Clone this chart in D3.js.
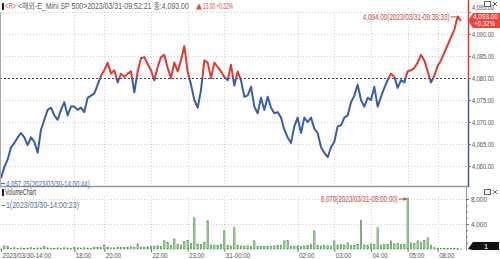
<!DOCTYPE html>
<html>
<head>
<meta charset="utf-8">
<script src="https://cdn.jsdelivr.net/npm/d3@7/dist/d3.min.js"></script>
<style>
    body { margin: 0; background: #fff; }
    svg { display: block; font-family: "Liberation Sans", "Noto Sans CJK KR", sans-serif; }
    .grid line { stroke: #cfcfcf; stroke-dasharray: 1,2; }
    .ax text { fill: #505050; font-size: 8px; }
    .ax line { stroke: #777; }
</style>
</head>
<body>
<svg id="chart" width="500" height="259"></svg>
<script>
// price path (tick chart, oldest first)
const prices = [
    4057.25, 4059.75, 4061.5, 4064.25, 4065.25, 4066.5, 4067.5, 4066.5, 4064.75, 4066.5,
    4065.5, 4063.0, 4068.25, 4070.5, 4072.75, 4073.25, 4071.5, 4070.5, 4072.75, 4074.5,
    4071.5, 4073.5, 4073.5, 4072.75, 4073.25, 4072.25, 4075.5, 4076.0, 4076.5, 4078.5,
    4080.5, 4081.75, 4083.5, 4081.0, 4081.75, 4079.0, 4081.0, 4080.25, 4081.0, 4081.5,
    4076.75, 4081.5, 4084.5, 4084.75, 4083.25, 4081.75, 4079.5, 4082.5, 4084.75, 4085.25,
    4082.25, 4080.0, 4083.5, 4081.5, 4084.0, 4087.25, 4081.5, 4078.5, 4075.0, 4073.25,
    4077.25, 4084.0, 4083.5, 4080.0, 4083.5, 4082.5, 4081.5, 4080.25, 4079.5, 4083.0,
    4078.25, 4081.5, 4079.5, 4075.75, 4076.0, 4078.0, 4073.5, 4072.0, 4075.5, 4072.75,
    4075.75, 4073.25, 4072.0, 4072.25, 4071.0, 4068.25, 4066.5, 4065.25, 4069.0, 4071.0,
    4067.5, 4071.0, 4070.0, 4071.0, 4068.5, 4067.5, 4064.25, 4063.0, 4062.0, 4064.25,
    4065.5, 4069.0, 4069.25, 4071.0, 4071.5, 4074.5, 4076.0, 4078.5, 4075.0, 4073.5,
    4075.5, 4075.0, 4078.0, 4073.5, 4075.75, 4077.75, 4079.5, 4081.0, 4080.25, 4077.75,
    4079.5, 4079.0, 4081.5, 4081.75, 4082.25, 4083.5, 4085.25, 4084.0, 4081.5, 4079.0,
    4080.5, 4082.75, 4084.0, 4085.75, 4087.5, 4089.25, 4091.0, 4094.0, 4093.0
];
const volumes = [
    1, 500, 400, 150, 200, 120, 180, 100, 150, 220,
    130, 180, 160, 450, 200, 150, 120, 180, 140, 200,
    160, 120, 250, 180, 150, 200, 170, 130, 210, 260,
    300, 640, 250, 200, 180, 220, 260, 240, 300, 350,
    280, 800, 320, 300, 350, 420, 380, 500, 450, 1300,
    1100, 600, 1600, 700, 650, 1200, 1400, 900, 5000, 800,
    700, 1100, 4500, 650, 600, 550, 700, 2900, 600, 500,
    3400, 600, 500, 450, 520, 400, 1300, 450, 380, 420,
    400, 450, 500, 600, 550, 1300, 1400, 500, 450, 480,
    420, 500, 600, 700, 2900, 550, 480, 600, 520, 500,
    1300, 600, 700, 650, 1000, 550, 600, 700, 4600, 650,
    600, 800, 700, 3400, 650, 700, 750, 1300, 800, 900,
    700, 750, 8070, 1000, 900, 1300, 1100, 1400, 1800, 600,
    200, 150, 120, 100, 80, 120, 90, 60, 1
];
const basePrice = 4080;
const lastPrice = 4093.00;
const change = 13.00;
const changePct = 0.32;
const priceTicks = [4060, 4065, 4070, 4075, 4080, 4085, 4090, 4095];
const volTicks = [4000, 8000];
const volMinorTicks = [1000, 2000, 3000, 5000, 6000, 7000];
const timeTickIdx = [0, 22, 31, 45, 56, 67, 89, 100, 111, 122, 131];
const timeTickLabels = ["2023/03/30-14:00", "18:00", "20:00", "22:00", "23:00", "31-00:00",
                        "02:00", "03:00", "04:00", "05:00", "08:00"];
const maxTime = "2023/03/31-09:35:33";
const minTime = "2023/03/30-14:00:44";
const volMaxTime = "2023/03/31-05:00:00";
const volMinTime = "2023/03/30-14:00:23";

const RED = "#e03a30", BLUE = "#3a5da8", axisX = 468;
const svg = d3.select("#chart");

const x = d3.scaleLinear().domain([0, prices.length - 1]).range([1, 461]);
const y = d3.scaleLinear().domain([4060, 4095]).range([166, 12]);
const yv = d3.scaleLinear().domain([0, 8000]).range([249, 199]);
const fmt2 = d3.format(",.2f");

// squeeze a text horizontally around its anchor so it spans w pixels
function fit(sel, w) {
    sel.each(function () {
        const n = this, len = n.getComputedTextLength();
        if (!len) return;
        const x0 = +(n.getAttribute("x") || 0);
        const s = w / len;
        d3.select(n).attr("transform", `translate(${x0},0) scale(${s},1) translate(${-x0},0)`);
    });
    return sel;
}

// grid
const grid = svg.append("g").attr("class", "grid");
grid.selectAll(".hp").data(priceTicks.filter(d => d !== basePrice)).join("line")
    .attr("x1", 0).attr("x2", axisX).attr("y1", d => y(d) + 0.5).attr("y2", d => y(d) + 0.5);
grid.selectAll(".vp").data(timeTickIdx.slice(1)).join("line")
    .attr("x1", d => Math.round(x(d)) + 0.5).attr("x2", d => Math.round(x(d)) + 0.5)
    .attr("y1", 12).attr("y2", 186);
grid.selectAll(".hv").data(volTicks).join("line")
    .attr("x1", 0).attr("x2", 466).attr("y1", d => yv(d) + 0.5).attr("y2", d => yv(d) + 0.5);
grid.selectAll(".vv").data(timeTickIdx.slice(1)).join("line")
    .attr("x1", d => Math.round(x(d)) + 0.5).attr("x2", d => Math.round(x(d)) + 0.5)
    .attr("y1", 197).attr("y2", 249);

// previous close
svg.append("line").attr("x1", 0).attr("x2", axisX)
    .attr("y1", y(basePrice) + 0.5).attr("y2", y(basePrice) + 0.5)
    .attr("stroke", "#444").attr("stroke-dasharray", "2,2");

// price line, red above the close and blue below
const defs = svg.append("defs");
defs.append("clipPath").attr("id", "up").append("rect")
    .attr("x", 0).attr("y", 0).attr("width", axisX).attr("height", y(basePrice));
defs.append("clipPath").attr("id", "dn").append("rect")
    .attr("x", 0).attr("y", y(basePrice)).attr("width", axisX).attr("height", 186 - y(basePrice));
const line = d3.line().x((d, i) => x(i)).y(d => y(d));
[["up", RED], ["dn", BLUE]].forEach(([id, c]) => {
    svg.append("path").datum(prices).attr("clip-path", `url(#${id})`)
        .attr("d", line).attr("fill", "none").attr("stroke", c)
        .attr("stroke-width", 2).attr("stroke-linejoin", "round");
});

// volume bars
svg.append("g").selectAll("rect").data(volumes).join("rect")
    .attr("x", (d, i) => x(i) - 0.7).attr("width", 1.4)
    .attr("y", d => yv(d)).attr("height", d => Math.max(0.6, yv(0) - yv(d)))
    .attr("fill", "#a8d4a0").attr("stroke", "#2f8a2f").attr("stroke-width", 0.5);

// panel borders
svg.append("line").attr("x1", 0).attr("x2", axisX).attr("y1", 186.5).attr("y2", 186.5)
    .attr("stroke", "#9a9a9a").attr("stroke-width", 1.5);
svg.append("line").attr("x1", 0.5).attr("x2", 0.5).attr("y1", 12).attr("y2", 186).attr("stroke", "#aaa");
svg.append("line").attr("x1", axisX + 0.5).attr("x2", axisX + 0.5).attr("y1", 0).attr("y2", y(basePrice))
    .attr("stroke", RED).attr("stroke-width", 1.5);
svg.append("line").attr("x1", axisX + 0.5).attr("x2", axisX + 0.5).attr("y1", y(basePrice)).attr("y2", 187)
    .attr("stroke", BLUE).attr("stroke-width", 1.5);
svg.append("line").attr("x1", 466.5).attr("x2", 466.5).attr("y1", 187).attr("y2", 250).attr("stroke", "#999");

// right price axis; the top label is pushed up clear of the last-price tag
const pa = svg.append("g").attr("class", "ax").attr("transform", `translate(${axisX},0)`)
    .call(d3.axisRight(y).tickValues(priceTicks).tickFormat(fmt2).tickSize(3).tickPadding(1));
pa.select(".domain").remove();
pa.selectAll("text").attr("font-size", 7.5)
    .attr("y", d => d === d3.max(priceTicks) ? -5 : 0);
fit(pa.selectAll("text"), 22);

// right volume axis
const va = svg.append("g").attr("class", "ax").attr("transform", "translate(466,0)")
    .call(d3.axisRight(yv).tickValues(volTicks).tickFormat(d3.format(",")).tickSize(3).tickPadding(2));
va.select(".domain").remove();
va.selectAll("text").attr("font-size", 7.5);
fit(va.selectAll("text"), 16);
const vm = svg.append("g").attr("class", "ax").attr("transform", "translate(466,0)")
    .call(d3.axisRight(yv).tickValues(volMinorTicks).tickFormat("").tickSize(2));
vm.select(".domain").remove();

// time axis
const ta = svg.append("g").attr("class", "ax").attr("transform", "translate(0,249)")
    .call(d3.axisBottom(x).tickValues(timeTickIdx).tickFormat((d, i) => timeTickLabels[i]).tickSize(3));
ta.select(".domain").remove();
ta.selectAll(".tick line").attr("stroke", "#555");
ta.selectAll("text").attr("text-anchor", "start").attr("x", 1).attr("y", 3).attr("dy", "0.71em")
    .each(function (d, i) { fit(d3.select(this), timeTickLabels[i].length * 3.05); });

// high / low labels
const iMax = d3.maxIndex(prices), iMin = d3.minIndex(prices);
fit(svg.append("text").attr("x", x(iMax) - 8).attr("y", y(prices[iMax]) + 3.5)
    .attr("text-anchor", "end").attr("font-size", 8.5).attr("fill", "#c4473f")
    .text(`${fmt2(prices[iMax])}(${maxTime})`), 87);
svg.append("line").attr("x1", x(iMax) - 7).attr("x2", x(iMax) - 1)
    .attr("y1", y(prices[iMax]) + 0.5).attr("y2", y(prices[iMax]) + 0.5).attr("stroke", "#c4473f");
svg.append("line").attr("x1", 1).attr("x2", 5).attr("y1", y(prices[iMin]) + 5.5).attr("y2", y(prices[iMin]) + 5.5)
    .attr("stroke", BLUE);
fit(svg.append("text").attr("x", 6).attr("y", y(prices[iMin]) + 9)
    .attr("font-size", 8.5).attr("fill", "#4d6aa8").text(`${fmt2(prices[iMin])}(${minTime})`), 84);

const vMax = d3.maxIndex(volumes);
fit(svg.append("text").attr("x", x(vMax) - 10).attr("y", yv(volumes[vMax]) + 3.5)
    .attr("text-anchor", "end").attr("font-size", 8.5).attr("fill", "#c4473f")
    .text(`${d3.format(",")(volumes[vMax])}(${volMaxTime})`), 77);
svg.append("line").attr("x1", x(vMax) - 9).attr("x2", x(vMax) - 1)
    .attr("y1", yv(volumes[vMax]) + 0.5).attr("y2", yv(volumes[vMax]) + 0.5).attr("stroke", "#c4473f");
svg.append("path").attr("d", `M${x(vMax) - 1},${yv(volumes[vMax]) + 0.5}l-3,-2v4z`).attr("fill", "#c4473f");
svg.append("line").attr("x1", 2).attr("x2", 5).attr("y1", 205.5).attr("y2", 205.5).attr("stroke", "#6a7a9a");
fit(svg.append("text").attr("x", 6).attr("y", 208.5).attr("font-size", 8.5).attr("fill", "#5a6f96")
    .text(`${d3.min(volumes)}(${volMinTime})`), 73);

// last price tag
svg.append("path").attr("d", `M${axisX},${y(lastPrice)}L473,13H500V28H473Z`).attr("fill", "#e8463c");
fit(svg.append("text").attr("x", 473).attr("y", 19.5).attr("font-size", 7.5).attr("fill", "#fff")
    .text(fmt2(lastPrice)), 25);
fit(svg.append("text").attr("x", 474).attr("y", 26.5).attr("font-size", 7.5).attr("fill", "#fff")
    .text(`+${changePct.toFixed(2)}%`), 21);

// last volume tag
svg.append("path").attr("d", `M468,${yv(volumes[volumes.length - 1])}L473,242H499V250H473Z`).attr("fill", "#111");
svg.append("text").attr("x", 484).attr("y", 249).attr("font-size", 7.5).attr("fill", "#fff")
    .text(volumes[volumes.length - 1]);

// headers
svg.append("rect").attr("x", 2).attr("y", 3).attr("width", 2).attr("height", 7).attr("fill", "#222");
fit(svg.append("text").attr("x", 5).attr("y", 9.5).attr("font-size", 8.5).attr("fill", "#d05a5a").text("<R>"), 11);
fit(svg.append("text").attr("x", 18).attr("y", 9.5).attr("font-size", 8.5).attr("fill", "#606060")
    .text(`<해외-E_Mini SP 500>2023/03/31-09:52:21 종:${fmt2(lastPrice)}`), 171);
svg.append("path").attr("d", "M196,9.5l3,-6l3,6z").attr("fill", "#e04a40");
fit(svg.append("text").attr("x", 203).attr("y", 9.5).attr("font-size", 8.5).attr("fill", "#e04a40")
    .text(`${change.toFixed(2)} +${changePct.toFixed(2)}%`), 30);
svg.append("rect").attr("x", 2).attr("y", 189).attr("width", 2).attr("height", 7).attr("fill", "#222");
fit(svg.append("text").attr("x", 5).attr("y", 195.5).attr("font-size", 8.5).attr("fill", "#333").text("VolumeChart"), 31);

// window buttons (restore box and close cross)
[1, 189].forEach(t => {
    svg.append("rect").attr("x", 484.5).attr("y", t + 0.5).attr("width", 6).attr("height", 5)
        .attr("fill", "#fff").attr("stroke", "#666");
    svg.append("path").attr("d", `M493,${t + 1}l4,4M497,${t + 1}l-4,4`)
        .attr("stroke", "#555").attr("stroke-width", 0.9);
});
</script>
</body>
</html>
